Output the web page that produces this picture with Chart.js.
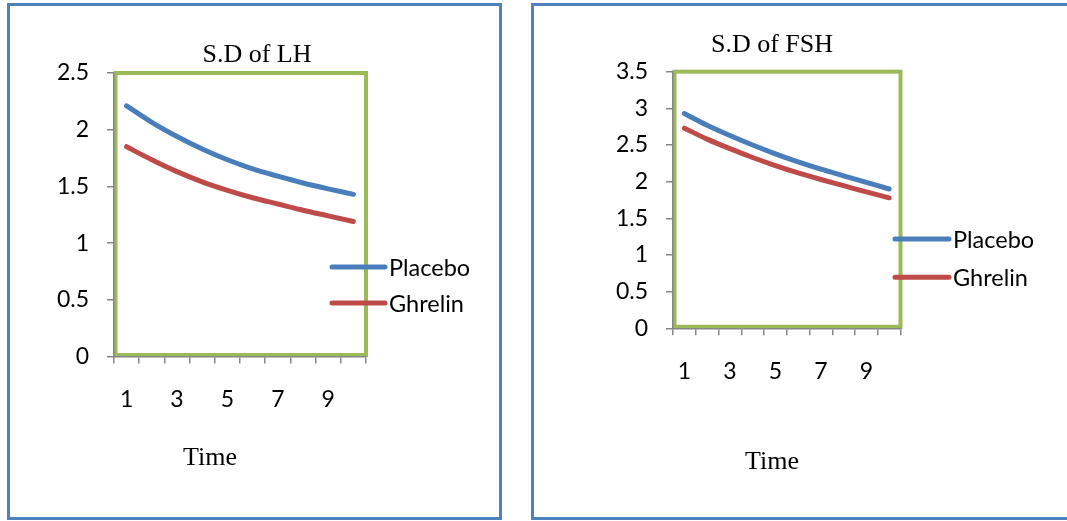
<!DOCTYPE html>
<html><head><meta charset="utf-8">
<script src="https://cdn.jsdelivr.net/npm/chart.js@4"></script>
<style>
html,body{margin:0;padding:0;background:#fff;width:1067px;height:521px;overflow:hidden;position:relative}
.frame{position:absolute;border:3.5px solid #4F81BD;box-sizing:border-box}
#f1{left:7px;top:3px;width:495px;height:517px}
#f2{left:531px;top:3px;width:560px;height:517px}
.wrap{position:absolute;top:0;height:521px}
#w1{left:0;width:530px}
#w2{left:533px;width:534px}
</style></head><body>
<div class="frame" id="f1"></div><div class="frame" id="f2"></div>
<div class="wrap" id="w1"><canvas id="c1"></canvas></div>
<div class="wrap" id="w2"><canvas id="c2"></canvas></div>
<script>
// ---- data ----
const timeLabels = ['1','2','3','4','5','6','7','8','9','10'];
const seriesNames = ['Placebo','Ghrelin'];
const lhPlacebo = [2.21, 2.065, 1.94, 1.83, 1.735, 1.655, 1.59, 1.53, 1.478, 1.43];
const lhGhrelin = [1.85, 1.735, 1.63, 1.54, 1.465, 1.40, 1.345, 1.29, 1.24, 1.19];
const fshPlacebo = [2.93, 2.77, 2.63, 2.50, 2.38, 2.27, 2.17, 2.08, 1.99, 1.90];
const fshGhrelin = [2.73, 2.58, 2.45, 2.33, 2.22, 2.12, 2.03, 1.945, 1.86, 1.78];
const lhTitle = 'S.D of LH';
const fshTitle = 'S.D of FSH';
const xTitle = 'Time';
const lhMax = 2.5, fshMax = 3.5, yStep = 0.5;

// ---- styling ----
const BLUE = '#4A7EBB', RED = '#BE4B48', GREEN = '#9BBB59', AXIS = '#868686';
const SANS = 'Lato, "Open Sans", sans-serif';
const SERIF = '"Liberation Serif", "Times New Roman", serif';

const decor = {
  id: 'decor',
  beforeDraw(chart, args, o) {
    const {ctx, chartArea: a} = chart;
    ctx.save();
    ctx.strokeStyle = GREEN;
    ctx.lineWidth = 4;
    ctx.strokeRect(a.left + 1.5, a.top, a.right - a.left - 1.5, a.bottom - a.top - 1.5);
    ctx.restore();
  },
  afterDraw(chart, args, o) {
    const {ctx} = chart;
    ctx.save();
    ctx.fillStyle = '#000';
    ctx.textAlign = 'center';
    ctx.textBaseline = 'alphabetic';
    ctx.font = '26px ' + SERIF;
    ctx.fillText(o.title, o.titleX, o.titleY);
    ctx.font = '26px ' + SERIF;
    ctx.fillText(o.xTitle, o.xTitleX, o.xTitleY);
    // legend
    ctx.font = '23.5px ' + SANS;
    ctx.textAlign = 'left';
    ctx.lineCap = 'round';
    chart.data.datasets.forEach((ds, i) => {
      const y = o.legY + i * o.legGap;
      ctx.strokeStyle = ds.borderColor;
      ctx.lineWidth = 5;
      ctx.beginPath();
      ctx.moveTo(o.legX0, y);
      ctx.lineTo(o.legX1, y);
      ctx.stroke();
      ctx.fillText(ds.label, o.legX1 + 4, y + 8.5);
    });
    ctx.restore();
  }
};

function makeChart(id, placebo, ghrelin, yMax, pad, dec) {
  return new Chart(document.getElementById(id), {
    type: 'line',
    data: {
      labels: timeLabels,
      datasets: [
        {label: seriesNames[0], data: placebo, borderColor: BLUE, borderWidth: 5, pointRadius: 0, cubicInterpolationMode: 'monotone', borderCapStyle: 'round', fill: false},
        {label: seriesNames[1], data: ghrelin, borderColor: RED, borderWidth: 5, pointRadius: 0, cubicInterpolationMode: 'monotone', borderCapStyle: 'round', fill: false}
      ]
    },
    options: {
      responsive: true,
      maintainAspectRatio: false,
      animation: false,
      events: [],
      layout: {padding: pad},
      plugins: {legend: {display: false}, title: {display: false}, tooltip: {enabled: false}, decor: dec},
      scales: {
        x: {
          type: 'category',
          offset: true,
          afterFit: s => { s.height = 60; },
          grid: {display: true, offset: true, drawOnChartArea: false, drawTicks: true, tickLength: 7, color: AXIS, lineWidth: 1.5},
          border: {display: true, color: AXIS, width: 1.5},
          ticks: {
            autoSkip: false, maxRotation: 0, padding: 22, color: '#000',
            font: {family: SANS, size: 23},
            callback: function(v, i) { return i % 2 === 0 ? this.getLabelForValue(v) : ''; }
          }
        },
        y: {
          min: 0, max: yMax,
          afterFit: s => { s.width = 70; },
          grid: {display: true, drawOnChartArea: false, drawTicks: true, tickLength: 7, color: AXIS, lineWidth: 1.5},
          border: {display: true, color: AXIS, width: 1.5},
          ticks: {stepSize: yStep, padding: 18, color: '#000', font: {family: SANS, size: 23},
            callback: v => String(Math.round(v * 10) / 10)}
        }
      }
    },
    plugins: [decor]
  });
}

makeChart('c1', lhPlacebo, lhGhrelin, lhMax,
  {left: 44, top: 73, right: 164, bottom: 104.5},
  {title: lhTitle, titleX: 257, titleY: 62, xTitle: xTitle, xTitleX: 210, xTitleY: 465,
   legX0: 332, legX1: 385, legY: 267, legGap: 36});
makeChart('c2', fshPlacebo, fshGhrelin, fshMax,
  {left: 70, top: 71.7, right: 166.5, bottom: 132.7},
  {title: fshTitle, titleX: 239, titleY: 52, xTitle: xTitle, xTitleX: 239, xTitleY: 469,
   legX0: 362, legX1: 416, legY: 239, legGap: 38.3});
</script>
</body></html>
